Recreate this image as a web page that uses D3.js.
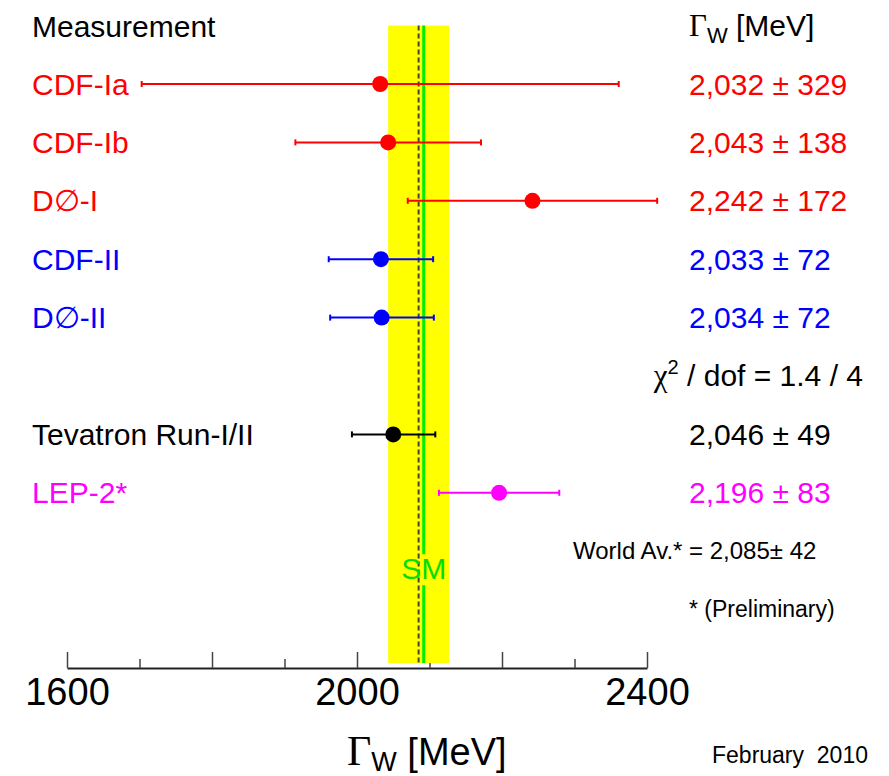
<!DOCTYPE html>
<html>
<head>
<meta charset="utf-8">
<script src="https://cdn.jsdelivr.net/npm/d3@7"></script>
<style>
body { margin: 0; background: #fff; }
svg text { font-family: "Liberation Sans", Arial, Helvetica, sans-serif; }
svg .serif { font-family: "Liberation Serif", "Times New Roman", serif; }
</style>
</head>
<body>
<div id="chart"></div>
<script>
// measurements, top to bottom (row index 5 is the chi2 line)
const names = ["CDF-Ia", "CDF-Ib", "D\u2205-I", "CDF-II", "D\u2205-II", "Tevatron Run-I/II", "LEP-2*"];
const rows = [0, 1, 2, 3, 4, 6, 7];
const centers = [2032, 2043, 2242, 2033, 2034, 2050, 2196];
const errLow = [1703, 1915, 2070, 1961, 1963, 1993, 2113];
const errHigh = [2361, 2171, 2414, 2105, 2106, 2108, 2279];
const valueLabels = ["2,032 \u00b1 329", "2,043 \u00b1 138", "2,242 \u00b1 172", "2,033 \u00b1 72", "2,034 \u00b1 72", "2,046 \u00b1 49", "2,196 \u00b1 83"];
const colors = ["#ff0000", "#ff0000", "#ff0000", "#0000ff", "#0000ff", "#000000", "#ff00ff"];

// world average band and SM prediction
const worldAvg = 2085;
const worldErr = 42;
const smValue = 2092;

// axis ticks
const majorTicks = [1600, 1800, 2000, 2200, 2400];
const minorTicks = [1700, 1900, 2100, 2300];
const tickLabels = [1600, 2000, 2400];

const width = 889, height = 776;

const svg = d3.select("#chart")
    .append("svg")
    .attr("width", width)
    .attr("height", height);

const x = d3.scaleLinear().domain([1600, 2400]).range([67, 647]);
// row -1 is the header, row 10 is the axis line
const y = d3.scaleLinear().domain([-1, 10]).range([25.6, 668]);

const data = names.map((n, i) => ({
    name: n, row: rows[i], c: centers[i], lo: errLow[i], hi: errHigh[i],
    label: valueLabels[i], color: colors[i]
}));

// axis: ticks point up, labels below
const axisG = svg.append("g").attr("transform", `translate(0,${y(10)})`);
axisG.call(d3.axisBottom(x)
    .tickValues(majorTicks)
    .tickSizeInner(-16)
    .tickSizeOuter(0)
    .tickPadding(10)
    .tickFormat(d => tickLabels.includes(d) ? d : ""));
axisG.select(".domain").attr("stroke", "#222").attr("stroke-width", 2);
axisG.selectAll(".tick line").attr("stroke", "#444").attr("stroke-width", 1.5);
axisG.selectAll(".tick text")
    .attr("font-size", 38)
    .attr("fill", "#000")
    .style("font-family", "'Liberation Sans', Arial, sans-serif");

const minorG = svg.append("g").attr("transform", `translate(0,${y(10)})`);
minorG.call(d3.axisBottom(x).tickValues(minorTicks).tickSizeInner(-9).tickSizeOuter(0).tickFormat(""));
minorG.select(".domain").remove();
minorG.selectAll(".tick line").attr("stroke", "#444").attr("stroke-width", 1.5);

// world average band
const bandBottom = y(10) - 5;
svg.append("rect")
    .attr("x", x(worldAvg - worldErr))
    .attr("y", y(-1))
    .attr("width", x(worldAvg + worldErr) - x(worldAvg - worldErr))
    .attr("height", bandBottom - y(-1))
    .attr("fill", "#ffff00");

// SM line
svg.append("line")
    .attr("x1", x(smValue)).attr("x2", x(smValue))
    .attr("y1", y(-1)).attr("y2", bandBottom)
    .attr("stroke", "#00ee00")
    .attr("stroke-width", 3);

// SM label with a yellow box breaking the green line
const smText = svg.append("text")
    .attr("x", x(smValue))
    .attr("y", y(8) + 28)
    .attr("text-anchor", "middle")
    .attr("font-size", 30)
    .attr("fill", "#00e000")
    .text("SM");
const bb = smText.node().getBBox();
svg.insert("rect", () => smText.node())
    .attr("x", bb.x).attr("y", bb.y + 2)
    .attr("width", bb.width).attr("height", bb.height - 2)
    .attr("fill", "#ffff00");

// world average central value, dashed
svg.insert("line", () => smText.node())
    .attr("x1", x(worldAvg)).attr("x2", x(worldAvg))
    .attr("y1", y(-1)).attr("y2", bandBottom)
    .attr("stroke", "#444")
    .attr("stroke-width", 2)
    .attr("stroke-dasharray", "5,3");

// error bars
const bars = svg.append("g").selectAll("g")
    .data(data)
    .enter()
    .append("g");

bars.append("line")
    .attr("x1", d => x(d.lo)).attr("x2", d => x(d.hi))
    .attr("y1", d => y(d.row)).attr("y2", d => y(d.row))
    .attr("stroke", d => d.color)
    .attr("stroke-width", 2);

bars.selectAll(".cap")
    .data(d => [{ v: d.lo, d: d }, { v: d.hi, d: d }])
    .enter()
    .append("line")
    .attr("class", "cap")
    .attr("x1", e => x(e.v)).attr("x2", e => x(e.v))
    .attr("y1", e => y(e.d.row) - 3).attr("y2", e => y(e.d.row) + 3)
    .attr("stroke", e => e.d.color)
    .attr("stroke-width", 2);

bars.append("circle")
    .attr("cx", d => x(d.c))
    .attr("cy", d => y(d.row))
    .attr("r", 8)
    .attr("fill", d => d.color);

// left labels
svg.append("text")
    .attr("x", 32).attr("y", y(-1) + 11)
    .attr("font-size", 30)
    .text("Measurement");

svg.append("g").selectAll("text")
    .data(data)
    .enter()
    .append("text")
    .attr("x", 32)
    .attr("y", d => y(d.row) + 10.5)
    .attr("font-size", 30)
    .attr("fill", d => d.color)
    .text(d => d.name);

// right values
const head = svg.append("text")
    .attr("x", 689).attr("y", y(-1) + 10)
    .attr("font-size", 30);
head.append("tspan").attr("class", "serif").attr("font-size", 31).text("\u0393");
head.append("tspan").attr("font-size", 22).attr("dy", 7).text("W");
head.append("tspan").attr("dy", -7).text(" [MeV]");

svg.append("g").selectAll("text")
    .data(data)
    .enter()
    .append("text")
    .attr("x", 689)
    .attr("y", d => y(d.row) + 10.5)
    .attr("font-size", 30)
    .attr("fill", d => d.color)
    .text(d => d.label);

const chi = svg.append("text")
    .attr("x", 863).attr("y", y(5) + 10)
    .attr("text-anchor", "end")
    .attr("font-size", 30);
chi.append("tspan").attr("class", "serif").attr("font-size", 31).text("\u03c7");
chi.append("tspan").attr("font-size", 20).attr("dy", -12).text("2");
chi.append("tspan").attr("dy", 12).text(" / dof = 1.4 / 4");

svg.append("text")
    .attr("x", 573).attr("y", y(8) + 7.5)
    .attr("font-size", 24)
    .text("World Av.* = 2,085\u00b1 42");

svg.append("text")
    .attr("x", 689).attr("y", y(9) + 7)
    .attr("font-size", 23)
    .text("* (Preliminary)");

// axis title
const title = svg.append("text")
    .attr("x", 347).attr("y", 765)
    .attr("font-size", 38);
title.append("tspan").attr("class", "serif").attr("font-size", 42).text("\u0393");
title.append("tspan").attr("font-size", 27).attr("dy", 6).text("W");
title.append("tspan").attr("dy", -6).text(" [MeV]");

svg.append("text")
    .attr("x", 712).attr("y", 763)
    .attr("font-size", 23)
    .style("white-space", "pre")
    .text("February  2010");
</script>
</body>
</html>
